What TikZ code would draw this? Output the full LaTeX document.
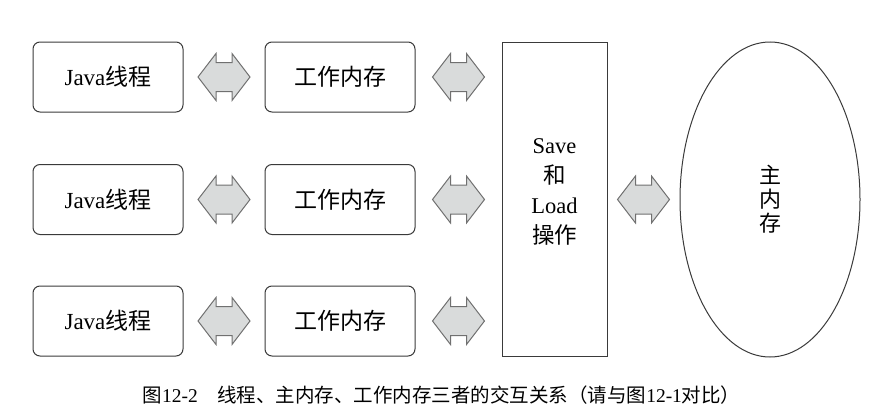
\documentclass[tikz,border=0pt]{standalone}
\usepackage{fontspec}
\setmainfont{Liberation Serif}
\newfontfamily\cjk{Noto Sans CJK SC}
\usetikzlibrary{calc,shapes.geometric}
\definecolor{boxline}{HTML}{3A3A3A}
\definecolor{arrfill}{HTML}{D9DBDB}
\definecolor{arrline}{HTML}{707070}
\tikzset{
  roundbox/.style={draw=boxline, line width=1pt, rounded corners=7pt, minimum width=150pt, minimum height=70pt, font=\fontsize{23}{26}\selectfont},
  opbox/.style={draw=boxline, line width=1pt, minimum width=105pt, minimum height=314pt},
  optext/.style={align=center, font=\fontsize{22.5}{30}\selectfont},
  memell/.style={draw=boxline, line width=1pt, ellipse, minimum width=180pt, minimum height=315pt, align=center, font=\cjk\fontsize{22}{24}\selectfont},
  blockarrow/.style={draw=arrline, fill=arrfill, line width=1pt, line join=miter},
}
\newcommand\dblarrow[1]{%
  \draw[blockarrow] ($(#1)+(-26,0)$) -- ++(18,-23.5) -- ++(0,9) -- ++(16,0) -- ++(0,-9)
    -- ++(18,23.5) -- ++(-18,23.5) -- ++(0,-9) -- ++(-16,0) -- ++(0,9) -- cycle;}
\begin{document}
\begin{tikzpicture}[x=1pt,y=-1pt]
\useasboundingbox (0,0) rectangle (873,415);
% Java threads
\node[roundbox] (j1) at (108,77) {Java{\cjk 线程}};
\node[roundbox] (j2) at (108,199.5) {Java{\cjk 线程}};
\node[roundbox] (j3) at (108,321) {Java{\cjk 线程}};
% working memories
\node[roundbox, font=\cjk\fontsize{23}{26}\selectfont] (w1) at (340,77) {工作内存};
\node[roundbox, font=\cjk\fontsize{23}{26}\selectfont] (w2) at (340,199.5) {工作内存};
\node[roundbox, font=\cjk\fontsize{23}{26}\selectfont] (w3) at (340,321) {工作内存};
% save/load
\node[opbox] (op) at (554.5,199) {};
\node[optext] (opt) at ($(op.center)+(0,-7)$) {Save\\{\cjk 和}\\Load\\{\cjk 操作}};
% main memory
\node[memell] (mm) at (770,199.5) {主\\内\\存};
% arrows
\coordinate (a1) at ($(j1.east)!0.5!(w1.west)$);
\coordinate (a2) at ($(j2.east)!0.5!(w2.west)$);
\coordinate (a3) at ($(j3.east)!0.5!(w3.west)$);
\coordinate (b1) at ($(w1.east)!0.5!(op.west |- w1.east)$);
\coordinate (b2) at ($(w2.east)!0.5!(op.west |- w2.east)$);
\coordinate (b3) at ($(w3.east)!0.5!(op.west |- w3.east)$);
\coordinate (c1) at ($(op.east |- mm.west)!0.5!(mm.west)$);
\dblarrow{a1}\dblarrow{a2}\dblarrow{a3}
\dblarrow{b1}\dblarrow{b2}\dblarrow{b3}
\dblarrow{c1}
% caption
\node[font=\fontsize{19.5}{21}\selectfont] (cap) at (441.5,395) {{\cjk 图}12-2\hspace{1em}{\cjk 线程、主内存、工作内存三者的交互关系（请与图}12-1{\cjk 对比）}};
\end{tikzpicture}
\end{document}
